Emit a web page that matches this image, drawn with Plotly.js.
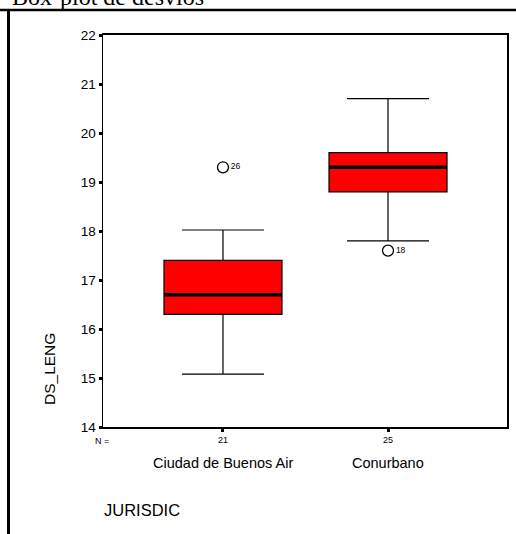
<!DOCTYPE html>
<html>
<head>
<meta charset="utf-8">
<script src="https://cdn.plot.ly/plotly-3.0.1.min.js"></script>
<style>html,body{margin:0;padding:0;background:#fff;}#chart{width:516px;height:534px;}</style>
</head>
<body>
<div id="chart"></div>
<script>
// Data
const categories = ["Ciudad de Buenos Air", "Conurbano"];
const nCounts = [21, 25];
const lowerWhisker = [15.08, 17.8];
const q1 = [16.3, 18.8];
const median = [16.7, 19.3];
const q3 = [17.4, 19.6];
const upperWhisker = [18.02, 20.7];
const outlierCategory = ["Ciudad de Buenos Air", "Conurbano"];
const outlierValue = [19.3, 17.6];
const outlierCase = ["26", "18"];
const yTicks = [14, 15, 16, 17, 18, 19, 20, 21, 22];

const boxWidth = 0.715;
const FONT = "Liberation Sans, Arial, sans-serif";

const boxTrace = {
  type: "box",
  x: categories,
  q1: q1,
  median: median,
  q3: q3,
  lowerfence: lowerWhisker,
  upperfence: upperWhisker,
  width: boxWidth,
  whiskerwidth: 0.695,
  fillcolor: "#ff0000",
  line: {color: "#000000", width: 1.2},
  boxpoints: false,
  hoverinfo: "skip",
  showlegend: false
};

const outlierTrace = {
  type: "scatter",
  mode: "markers+text",
  x: outlierCategory,
  y: outlierValue,
  text: outlierCase,
  textposition: "middle right",
  textfont: {family: FONT, size: 8.5, color: "#000"},
  marker: {symbol: "circle-open", size: 11, color: "#000", line: {width: 1.3, color: "#000"}},
  cliponaxis: false,
  showlegend: false,
  hoverinfo: "skip"
};

const shapes = [];
// thick median lines, derived from the median array
median.forEach((m, i) => {
  shapes.push({type: "line", xref: "x", yref: "y", x0: i - boxWidth / 2, x1: i + boxWidth / 2, y0: m, y1: m,
    line: {color: "#000", width: 3.5}});
});
// page decoration: header rule and left rule
shapes.push({type: "line", xref: "paper", yref: "paper", x0: -103/404, x1: 413/404, y0: 1 + (35-10)/392, y1: 1 + (35-10)/392,
  line: {color: "#000", width: 2.5}});
shapes.push({type: "line", xref: "paper", yref: "paper", x0: -(103-8.5)/404, x1: -(103-8.5)/404, y0: 1 + (35-10)/392, y1: -107/392,
  line: {color: "#000", width: 3}});

const annotations = [];
annotations.push({xref: "paper", yref: "paper", x: -1/404, y: -14/392, text: "N =", showarrow: false,
  font: {family: FONT, size: 9, color: "#000"}, xanchor: "center", yanchor: "middle"});
categories.forEach((c, i) => {
  annotations.push({xref: "x", yref: "paper", x: c, y: -36/392, text: c, showarrow: false,
    font: {family: FONT, size: 14.5, color: "#000"}, xanchor: "center", yanchor: "middle"});
});
annotations.push({xref: "paper", yref: "paper", x: -54/404, y: (427-369)/392, text: "DS_LENG", showarrow: false,
  textangle: -90, font: {family: FONT, size: 15.5, color: "#000"}, xanchor: "center", yanchor: "middle"});
annotations.push({xref: "paper", yref: "paper", x: -1/404, y: -(510-427)/392, text: "JURISDIC", showarrow: false,
  font: {family: FONT, size: 16.5, color: "#000"}, xanchor: "left", yanchor: "middle"});
annotations.push({xref: "paper", yref: "paper", x: -93/404, y: 1 + (35+3)/392, text: "Box-plot de desvíos", showarrow: false,
  font: {family: "Liberation Serif, Times New Roman, serif", size: 24, color: "#000"}, xanchor: "left", yanchor: "middle"});

const layout = {
  width: 516, height: 534,
  margin: {l: 103, r: 9, t: 35, b: 107, pad: 0},
  paper_bgcolor: "#fff", plot_bgcolor: "#fff",
  showlegend: false,
  xaxis: {
    type: "category",
    range: [-0.727, 1.721],
    tickmode: "array",
    tickvals: categories,
    ticktext: nCounts.map(String),
    ticks: "outside", ticklen: 3, tickwidth: 3, tickcolor: "#000",
    tickfont: {family: FONT, size: 9, color: "#000"},
    showline: true, linecolor: "#000", linewidth: 2, mirror: true,
    showgrid: false, zeroline: false, fixedrange: true
  },
  yaxis: {
    range: [14, 22],
    tickmode: "array",
    tickvals: yTicks,
    ticktext: yTicks.map(String),
    ticks: "outside", ticklen: 3, tickwidth: 3, tickcolor: "#000",
    tickfont: {family: FONT, size: 13.5, color: "#000"},
    showline: true, linecolor: "#000", linewidth: 1.5, mirror: true,
    showgrid: false, zeroline: false, fixedrange: true
  },
  shapes: shapes,
  annotations: annotations
};

Plotly.newPlot("chart", [boxTrace, outlierTrace], layout, {displayModeBar: false, staticPlot: true});
</script>
</body>
</html>
